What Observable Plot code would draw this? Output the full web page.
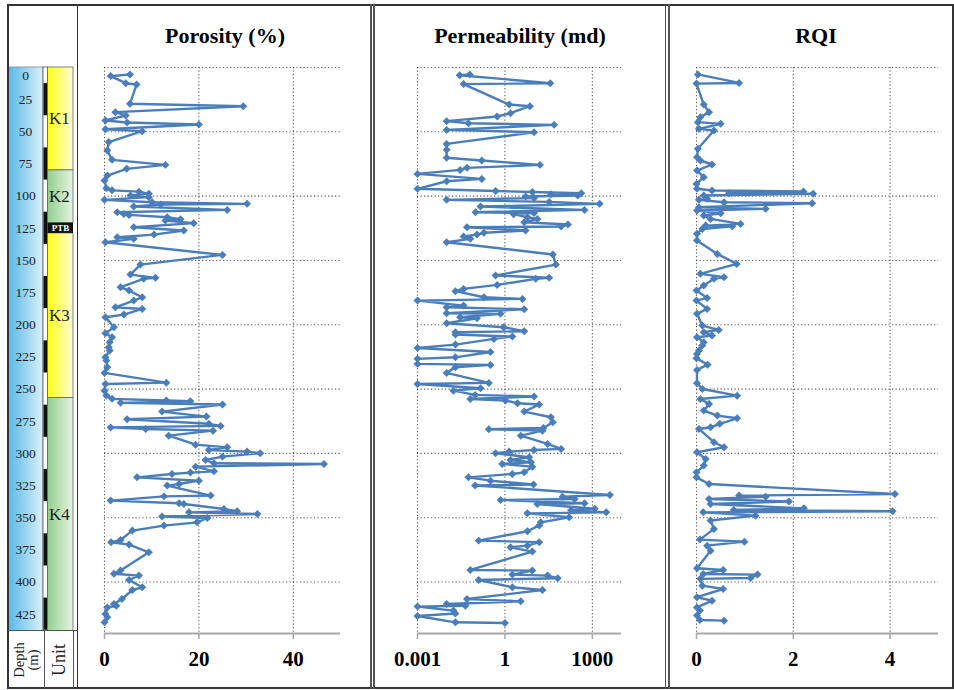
<!DOCTYPE html>
<html><head><meta charset="utf-8">
<script src="https://cdn.jsdelivr.net/npm/d3@7"></script>
<script src="https://cdn.jsdelivr.net/npm/@observablehq/plot@0.6"></script>
<style>
body{margin:0;background:#fff;}
#fig{position:relative;width:954px;height:690px;overflow:hidden;background:#fff;font-family:"Liberation Serif","DejaVu Serif",serif;color:#000;}
.title{position:absolute;top:25px;font-weight:bold;font-size:22px;line-height:22px;white-space:nowrap;transform:translateX(-50%);}
.rot{position:absolute;white-space:nowrap;text-align:center;transform:translate(-50%,-50%) rotate(-90deg);color:#222;}
.ln{position:absolute;background:#333;}
</style></head><body><div id="fig"></div><script>
// ---------------- data ----------------
const depthDomain = [0, 440];
const depthGridLines = [0, 50, 100, 150, 200, 250, 300, 350, 400];
const depthLabels = [0, 25, 50, 75, 100, 125, 150, 175, 200, 225, 250, 275, 300, 325, 350, 375, 400, 425];
const columnBase = 438;
const units = ["K1", "K2", "PTB", "K3", "K4"];
const unitTop = [0, 80, 121, 129, 257];
const unitBase = [80, 121, 129, 257, 438];
const scaleBarBlack = [[12.5,37.5],[62.5,87.5],[112.5,137.5],[162.5,187.5],[212.5,237.5],[262.5,287.5],[312.5,337.5],[362.5,387.5],[412.5,437.5]];

const porosityTicks = [0, 20, 40];
const permeabilityTicks = [0.001, 1, 1000];
const rqiTicks = [0, 2, 4];

// [depth (m), porosity (%)]
const porosity = [[5.4,5.4],[6.7,1.3],[12.2,4.5],[13.2,6.8],[28.2,5.4],[30.1,29.4],[34.7,2.3],[37.3,4.5],[41.2,0.2],[42.8,4.8],[44.3,20],[48,0.2],[49.5,8],[58,0.9],[64.5,0.6],[71.8,1.6],[75.7,12.9],[78.8,4.7],[84,0.6],[87.9,0],[93.8,0.4],[95.5,1.6],[96.5,7.3],[98.2,9.4],[99.5,5.5],[100.8,9.4],[102.9,0],[104.7,10.1],[106,30.2],[106.5,11.9],[108.1,6.2],[110.7,26],[112.5,2.7],[113.8,4.1],[114.6,5.2],[116.4,13.3],[118,16.1],[119,12.9],[121,18.9],[124.2,6.2],[126.7,16.8],[129.9,10.5],[132,2.7],[133.2,6.2],[135.8,0.2],[145.7,25],[153.2,7.6],[161,5.5],[163.5,10.8],[164.3,8.3],[170.8,3.4],[173.4,5.2],[178.6,8],[181.2,6.2],[186.4,2.3],[187.7,8],[192.1,4.1],[194.2,0.2],[201.9,2],[206.6,0.2],[209.7,1.6],[213.6,1.1],[217.5,0.9],[220,1.1],[225.3,0.2],[227.8,0.4],[233,0.6],[237.4,0],[245,13.1],[246,0.2],[251.2,0],[255,0.4],[257.6,1.6],[258.9,13.1],[259.5,18.2],[260.7,3.4],[262,25],[267.5,12.2],[271.4,21.6],[273.5,4.8],[277,22.1],[278.6,24.6],[279.8,1.3],[281,8.7],[282.3,23],[286.2,13.6],[293.2,19.3],[295.3,26],[297.3,22.1],[298.6,30.2],[299.9,33],[302.5,25],[305.1,21.4],[307.7,23.2],[308.2,46.5],[310.3,19.3],[313.9,23.2],[314.9,18.2],[316,14.3],[318.6,6.9],[321.2,20],[323.8,15.8],[325,13.3],[332.8,22.5],[333.4,12.6],[336.7,1.3],[338.8,15.8],[339.3,16.8],[343.2,25.3],[345,28.1],[345.8,17.9],[347.1,32.4],[349.1,12.2],[350.2,21.8],[353.6,19.6],[356.1,12.6],[360,5.9],[367.3,3.4],[369.1,1.4],[370.9,5.2],[376.9,9.4],[391.1,3.4],[393.5,2],[395,7.3],[398.4,5.2],[404.1,8],[406.2,5.9],[413.2,3.7],[417.1,2],[418.4,2.5],[419.7,0.6],[424.8,0.2],[427.4,0.6],[431.3,0]];

// [depth (m), permeability (md)]
const permeability = [[5.4,0.062],[6.0,0.028],[12.2,36],[12.9,0.038],[28.8,1.4],[30.1,7.2],[35.5,1.55],[38.1,0.54],[41.7,0.01],[43.3,0.056],[44.6,49],[48.5,0.01],[50.3,10],[59.4,0.01],[64,0.01],[70.2,0.01],[72.3,0.16],[75.7,16],[78,0.05],[79.6,0.029],[82.7,0.001],[86.6,0.16],[88.4,0.01],[94.3,0.001],[96,0.48],[96.8,8.7],[97.7,417],[98.5,38],[99.5,316],[100.3,5.1],[101.5,10],[102.9,0.01],[104.5,33],[106,1780],[108.1,0.145],[110.7,537],[112.5,0.098],[113.2,10],[114,2.0],[116.4,5.9],[117.7,13],[120.3,4.6],[122.1,145],[123.6,85],[124.2,0.05],[126.7,5.1],[128.5,0.19],[129.9,0.11],[131.4,0.038],[133.2,0.065],[135.8,0.01],[145.4,44],[153.2,56],[161.7,0.48],[163.5,33],[164.3,11.5],[169,0.54],[172.1,0.038],[173.9,0.02],[178.6,0.19],[179.9,4],[181.2,0.001],[185.1,0.038],[186.4,0.01],[187.9,4.6],[191,0.01],[191.5,0.71],[194.1,0.029],[194.9,0.11],[198.8,0.01],[201.9,0.91],[205,4.6],[205.8,0.02],[207.6,0.02],[209.2,1.8],[211,0.42],[215.4,0.02],[218,0.001],[221.2,0.32],[225.3,0.02],[226.5,0.001],[230.4,0.001],[231.2,0.32],[233,0.02],[237.4,0.01],[245.2,0.28],[246,0.001],[249.4,0.145],[251.2,0.017],[254.5,0.095],[255.8,10],[257.7,0.065],[258.9,1.05],[261,2.7],[262,15],[267.5,4.6],[271.9,38],[275.8,44],[280.2,21],[281.2,0.28],[282.3,19.5],[286.2,3.5],[292.6,29],[296.5,85],[297.3,10],[298.6,1.4],[299.9,0.48],[303,6.8],[305.1,1.55],[306.9,7.8],[308.2,0.81],[310.3,8.7],[314.7,4.6],[316,1.8],[318.6,0.056],[321.2,0.32],[324.2,9.5],[324.9,0.095],[332.3,4000],[333.6,95],[335.4,245],[336.2,0.71],[338.8,537],[339.3,13],[343,1200],[344.2,185],[345.8,3000],[346.6,5.9],[349.6,160],[353.6,17],[356,15],[360.5,5.9],[367.8,0.126],[369,15],[371.7,5.9],[373,1.55],[376.3,8.7],[390.6,0.065],[391.1,8.7],[394.2,1.8],[395,29],[397,65],[398.4,0.126],[404.1,1.8],[406.2,19.5],[413.2,0.05],[415,3.5],[417.1,0.01],[418.4,0.044],[419.1,0.001],[422.2,0.017],[424.5,0.02],[426.4,0.001],[431.3,0.02],[431.8,1]];

// [depth (m), RQI]
const rqi = [[5.4,0.03],[12.0,0.88],[12.5,0],[28.8,0.15],[34.7,0.26],[38.6,0.08],[42.5,0.03],[43.8,0.5],[47.7,0.05],[49,0.36],[63.2,0.03],[69.7,0.01],[72.3,0.08],[75.4,0.32],[80.1,0.01],[85.3,0.15],[90.5,0],[94.3,0.01],[95.6,0.32],[96.4,2.21],[97.7,0.67],[98.2,2.41],[99.5,0.15],[102.1,0.22],[102.9,0.05],[104.7,0.57],[105.5,2.39],[108.6,0.05],[109.9,1.43],[111.2,0.01],[113.3,0.5],[115.1,0.15],[117.7,0.29],[121.6,0.91],[122.9,0.19],[123.4,0.74],[125.5,0.12],[129.3,0.01],[134.5,0.01],[144.9,0.43],[152.7,0.83],[160.4,0.08],[163,0.57],[164.3,0.36],[169.5,0.15],[173.4,0],[179.1,0.22],[181.2,0],[187.7,0.22],[191.5,0.01],[200.6,0.12],[204,0.46],[205.8,0.15],[208.4,0.32],[209.7,0.01],[213.6,0.15],[216.2,0.12],[220,0.05],[222.7,0.01],[226,0],[231,0.23],[235.1,0.01],[245.5,0.01],[249.9,0.12],[255.1,0.84],[257.7,0.08],[261.5,0.26],[266.7,0.15],[270.6,0.43],[272.7,0.84],[277,0.48],[279.7,0.29],[281,0.05],[291.3,0.36],[295.2,0.57],[299.1,0.01],[304.3,0.19],[309.4,0.15],[314.7,0],[318.6,0],[323.8,0.26],[331.5,4.1],[332.8,0.88],[333.6,1.43],[335.4,0.26],[337.4,1.91],[339.3,0.29],[342.7,2.22],[343.9,0.77],[345,4.05],[345.8,0.14],[348.4,1.22],[352.2,0.29],[358.7,0.36],[367,0.07],[368.6,0.99],[371.7,0.22],[375.6,0.29],[389.3,0.01],[390.6,0.55],[393.7,0.14],[394.2,1.26],[396.8,1.12],[397.5,0.08],[402.8,0.12],[405.4,0.55],[411.8,0.01],[414.5,0.32],[419.7,0.01],[422.2,0.07],[426.1,0.01],[429.5,0.07],[430,0.57]];

// ---------------- layout / style ----------------
const SERIF = "'Liberation Serif', 'DejaVu Serif', serif";
const BLUE = "#4a7ebb";
const H = 690, MT = 67, MB = 57;
const fig = document.getElementById("fig");
const yScale = {domain: depthDomain, reverse: true, axis: null};
const gridStyle = {stroke: "#333", strokeOpacity: 0.8, strokeWidth: 1.1, strokeDasharray: "1.2,2.3"};

function place(el, left, top) {
  el.style.position = "absolute"; el.style.left = left + "px"; el.style.top = top + "px";
  fig.appendChild(el);
}

function track(data, {left, width, marginLeft, marginRight, x, ticks, tickFormat}) {
  const svg = Plot.plot({
    width, height: H, marginTop: MT, marginBottom: MB, marginLeft, marginRight,
    style: {fontFamily: SERIF, background: "transparent", overflow: "visible"},
    x: {...x, axis: null},
    y: yScale,
    marks: [
      Plot.gridY(depthGridLines, gridStyle),
      Plot.gridX(ticks, gridStyle),
      Plot.ruleY([depthDomain[1]], {stroke: "#a8a8a8", strokeWidth: 2}),
      Plot.axisX({ticks, tickFormat, tickSize: 6, tickPadding: 12, stroke: "#a8a8a8", strokeWidth: 1.5,
                  fill: "#000", fontSize: 21, fontWeight: "bold", fontFamily: SERIF}),
      Plot.line(data, {x: d => d[1], y: d => d[0], stroke: BLUE, strokeWidth: 2.4}),
      Plot.dot(data, {x: d => d[1], y: d => d[0], symbol: "diamond2", r: 3.6, fill: BLUE})
    ]
  });
  place(svg, left, 0);
}

track(porosity, {left: 78, width: 292, marginLeft: 26, marginRight: 30,
  x: {domain: [0, 50]}, ticks: porosityTicks, tickFormat: d => String(d)});
track(permeability, {left: 375, width: 290, marginLeft: 42, marginRight: 44,
  x: {type: "log", domain: [0.001, 10000]}, ticks: permeabilityTicks, tickFormat: d => String(d)});
track(rqi, {left: 670, width: 284, marginLeft: 26, marginRight: 16,
  x: {domain: [0, 5]}, ticks: rqiTicks, tickFormat: d => String(d)});

// ---------------- depth / unit column ----------------
const COL = {depth: [8, 43], bar: [43, 47.5], unit: [47.5, 73], labelX: 25, unitLabelX: 48.5, ptbX: 60};
const unitRows = units.map((name, i) => ({name, top: unitTop[i], base: unitBase[i]}));
const yellowUnits = unitRows.filter(d => d.name === "K1" || d.name === "K3");
const greenUnits = unitRows.filter(d => d.name === "K2" || d.name === "K4");
const ptbUnits = unitRows.filter(d => d.name === "PTB");
const mid = d => (d.top + d.base) / 2;

const colSvg = Plot.plot({
  width: 78, height: H, marginTop: MT, marginBottom: MB, marginLeft: 0, marginRight: 0,
  style: {fontFamily: SERIF, background: "transparent", overflow: "visible"},
  x: {domain: [0, 78], range: [0, 78], axis: null},
  y: yScale,
  marks: [
    Plot.rect([{top: 0, base: columnBase}], {x1: COL.depth[0], x2: COL.depth[1], y1: "top", y2: "base", fill: "url(#gBlue)", stroke: "#7a8a90", strokeWidth: 0.8}),
    Plot.rect([{top: 0, base: columnBase}], {x1: COL.bar[0], x2: COL.bar[1], y1: "top", y2: "base", fill: "#fff", stroke: "#555", strokeWidth: 0.8}),
    Plot.rect(scaleBarBlack, {x1: COL.bar[0] + 0.5, x2: COL.bar[1] - 0.5, y1: d => d[0], y2: d => d[1], fill: "#111"}),
    Plot.rect(yellowUnits, {x1: COL.unit[0], x2: COL.unit[1], y1: "top", y2: "base", fill: "url(#gYellow)", stroke: "#666", strokeWidth: 0.8}),
    Plot.rect(greenUnits, {x1: COL.unit[0], x2: COL.unit[1], y1: "top", y2: "base", fill: "url(#gGreen)", stroke: "#666", strokeWidth: 0.8}),
    Plot.rect(ptbUnits, {x1: COL.unit[0], x2: COL.unit[1], y1: "top", y2: "base", fill: "#111"}),
    Plot.text(depthLabels.filter(d => d > 0), {x: COL.labelX, y: d => d, text: d => String(d), fontSize: 13.5, fill: "#222"}),
    Plot.text(depthLabels.filter(d => d === 0), {x: COL.labelX, y: d => d, text: d => String(d), fontSize: 13.5, fill: "#222", dy: 8}),
    Plot.text(unitRows.filter(d => d.name !== "PTB"), {x: COL.unitLabelX, y: mid, text: "name", textAnchor: "start", fontSize: 17, fill: "#222"}),
    Plot.text(ptbUnits, {x: COL.ptbX, y: mid, text: "name", fill: "#fff", fontWeight: "bold", fontSize: 9})
  ]
});
d3.select(colSvg).insert("defs", ":first-child").html(
  '<linearGradient id="gBlue" x1="0" x2="1" y1="0" y2="0"><stop offset="0" stop-color="#56b8e6"/><stop offset="1" stop-color="#dcf0fa"/></linearGradient>' +
  '<linearGradient id="gYellow" x1="0" x2="1" y1="0" y2="0"><stop offset="0" stop-color="#ffff14"/><stop offset="1" stop-color="#fffbd8"/></linearGradient>' +
  '<linearGradient id="gGreen" x1="0" x2="1" y1="0" y2="0"><stop offset="0" stop-color="#92cf8e"/><stop offset="1" stop-color="#e6f3e2"/></linearGradient>'
);
place(colSvg, 0, 0);

// ---------------- titles & labels ----------------
function addTitle(text, cx) {
  const d = document.createElement("div"); d.className = "title"; d.textContent = text;
  d.style.left = cx + "px"; fig.appendChild(d);
}
addTitle("Porosity (%)", 225);
addTitle("Permeability (md)", 520);
addTitle("RQI", 816);

function addRot(html, cx, cy, size, lh) {
  const d = document.createElement("div"); d.className = "rot"; d.innerHTML = html;
  d.style.left = cx + "px"; d.style.top = cy + "px"; d.style.fontSize = size + "px"; d.style.lineHeight = lh + "px";
  fig.appendChild(d);
}
addRot("Depth<br>(m)", 26, 660, 14.5, 14);
addRot("Unit", 59, 660, 18, 18);

// ---------------- frame lines ----------------
function hline(x1, x2, y, w = 1.5, c = "#333") {
  const d = document.createElement("div"); d.className = "ln";
  Object.assign(d.style, {left: x1 + "px", top: (y - w / 2) + "px", width: (x2 - x1) + "px", height: w + "px", background: c});
  fig.appendChild(d);
}
function vline(x, y1, y2, w = 1.5, c = "#333") {
  const d = document.createElement("div"); d.className = "ln";
  Object.assign(d.style, {left: (x - w / 2) + "px", top: y1 + "px", width: w + "px", height: (y2 - y1) + "px", background: c});
  fig.appendChild(d);
}
hline(8, 954, 5, 2);
hline(8, 954, 688, 2);
vline(8, 4, 689);
vline(77.5, 4, 689);
vline(371, 4, 689, 1.6, "#555");
vline(374, 4, 689, 1.6, "#555");
vline(665.5, 4, 689, 1.6, "#555");
vline(669, 4, 689, 1.6, "#555");
vline(953, 4, 689);
hline(8, 77.5, 630.5, 1, "#555");
vline(44, 630, 688, 1, "#555");
vline(73, 630, 688, 1, "#555");
</script></body></html>
